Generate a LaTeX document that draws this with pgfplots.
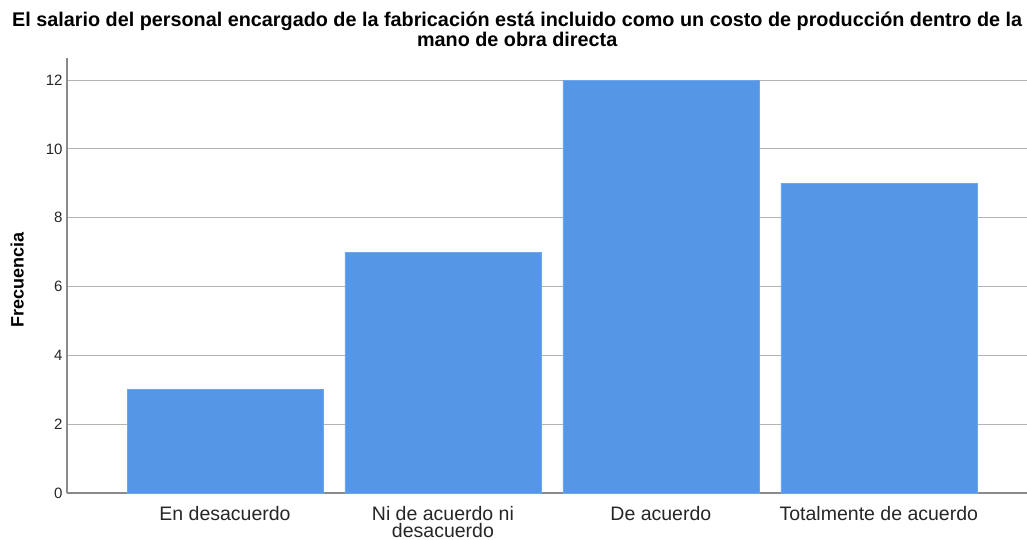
\documentclass[border=0pt]{standalone}
\usepackage{pgfplots}
\pgfplotsset{compat=1.18}
\usepackage{fontspec}
\setmainfont{Liberation Sans}
\definecolor{barblue}{HTML}{5596E6}
\definecolor{gridgray}{HTML}{B4B4B4}
\definecolor{axgray}{HTML}{8A8A8A}
\begin{document}
\begin{tikzpicture}
\useasboundingbox (0pt,0pt) rectangle (1027pt,539pt);
\begin{axis}[
  at={(67pt,46pt)}, anchor=south west,
  scale only axis, width=960pt, height=435pt,
  xmin=-0.725, xmax=3.68, ymin=0, ymax=12.64,
  axis x line*=bottom, axis y line*=left,
  axis line style={axgray, line width=1.4pt},
  x axis line style={-}, y axis line style={-},
  xtick=data,
  xticklabels={En desacuerdo,{Ni de acuerdo ni\\desacuerdo},De acuerdo,Totalmente de acuerdo},
  xticklabel style={align=center, font=\fontsize{19.5}{17}\selectfont, text=black!85, yshift=-10pt},
  ytick={0,2,4,6,8,10,12},
  yticklabel style={font=\fontsize{15}{16}\selectfont, text=black!85, xshift=-1pt},
  /pgf/number format/assume math mode=true,
  major tick length=0pt,
  ymajorgrids, grid style={gridgray, line width=1pt},
  ybar, bar width=196pt,
  ylabel={\textbf{Frecuencia}},
  ylabel style={font=\fontsize{18}{20}\selectfont, at={(axis description cs:-0.052,0.49)}, anchor=center},
  title={\textbf{El salario del personal encargado de la fabricación está incluido como un costo de producción dentro de la}\\\textbf{mano de obra directa}},
  title style={font=\fontsize{19.8}{20}\selectfont, align=center, at={(0.469,1)}, anchor=south, yshift=2pt},
  clip=false,
]
\addplot[fill=barblue, draw=barblue!85!white, line width=0.6pt] coordinates {(0,3) (1,7) (2,12) (3,9)};
\end{axis}
\end{tikzpicture}
\end{document}
